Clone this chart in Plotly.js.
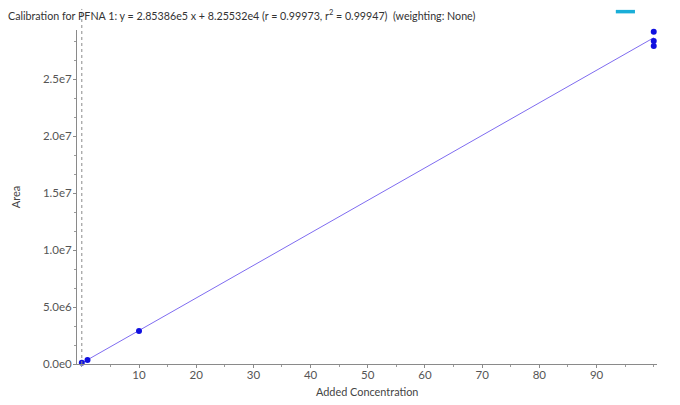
<!DOCTYPE html>
<html><head><meta charset="utf-8">
<script src="https://cdn.plot.ly/plotly-3.0.1.min.js"></script>
<style>body{margin:0;background:#fff}#c{width:680px;height:405px}</style>
</head><body><div id="c"></div>
<script>
// Calibration standards (Added Concentration vs Area)
const concentrations = [0, 1, 10, 100, 100, 100];
const areas = [1.0e5, 3.5e5, 2.9e6, 2.915e7, 2.833e7, 2.789e7];
// Fit equation given in title
const slope = 2.85386e5;
const intercept = 8.25532e4;
const fitX = [0, 100];
const fitY = fitX.map(x => slope * x + intercept);
const xTicks = [10, 20, 30, 40, 50, 60, 70, 80, 90];
const yTicks = [0, 5e6, 1e7, 1.5e7, 2e7, 2.5e7];
const yTickLabels = ['0.0e0', '5.0e6', '1.0e7', '1.5e7', '2.0e7', '2.5e7'];

const FONT = 'Lato, Open Sans, sans-serif';
const data = [
  {x: fitX, y: fitY, mode: 'lines', type: 'scatter',
   line: {color: '#7f6cf0', width: 1}, hoverinfo: 'skip', showlegend: false},
  {x: concentrations, y: areas, mode: 'markers', type: 'scatter',
   marker: {color: '#1010e0', size: 6}, cliponaxis: false, showlegend: false}
];
const axisCommon = {
  showline: true, linecolor: '#8a8a8a', linewidth: 1, mirror: false,
  showgrid: false, zeroline: false, ticks: 'outside', ticklen: 3, tickcolor: '#8a8a8a',
  tickfont: {family: FONT, size: 11.5, color: '#555'}
};
const layout = {
  width: 680, height: 405,
  margin: {l: 77, r: 23, t: 30, b: 41},
  paper_bgcolor: '#fff', plot_bgcolor: '#fff',
  font: {family: FONT, color: '#444'},
  title: {text: 'Calibration for PFNA 1: y = 2.85386e5 x + 8.25532e4 (r = 0.99973, r<sup>2</sup> = 0.99947) \u00a0(weighting: None)',
    x: 8/680, xref: 'container', xanchor: 'left', y: 1 - 16/405, yref: 'container', yanchor: 'middle',
    font: {family: FONT, size: 10.7, color: '#333'}},
  xaxis: Object.assign({}, axisCommon, {
    range: [-0.84, 100.57], tickmode: 'array', tickvals: xTicks, ticktext: xTicks.map(String),
    ticklabelstandoff: -3,
    minor: {tick0: 0, dtick: 5, ticks: 'outside', ticklen: 2, tickcolor: '#9a9a9a'}
  }),
  yaxis: Object.assign({}, axisCommon, {
    range: [0, 2.93e7], tickmode: 'array', tickvals: yTicks, ticktext: yTickLabels,
    ticklabelstandoff: -1,
    minor: {tick0: 0, dtick: 5e6/3, ticks: 'outside', ticklen: 2, tickcolor: '#9a9a9a'},
    title: {text: 'Area', font: {family: FONT, size: 11, color: '#444'}, standoff: 20}
  }),
  annotations: [
    {text: 'Added Concentration', xref: 'paper', yref: 'paper', x: 0.5, y: -0.0838,
     xanchor: 'center', yanchor: 'middle', showarrow: false,
     font: {family: FONT, size: 10.9, color: '#444'}}
  ],
  shapes: [
    {type: 'line', xref: 'x', yref: 'paper', x0: 0, x1: 0, y0: 0, y1: 1.063,
     line: {color: '#8a8a8a', width: 1, dash: 'dot'}},
    {type: 'line', xref: 'paper', yref: 'paper', x0: 0.929, x1: 0.962, y0: 1.055, y1: 1.055,
     line: {color: '#1aaed8', width: 3.5}}
  ]
};
Plotly.newPlot('c', data, layout, {displayModeBar: false, staticPlot: true});
</script>
</body></html>
